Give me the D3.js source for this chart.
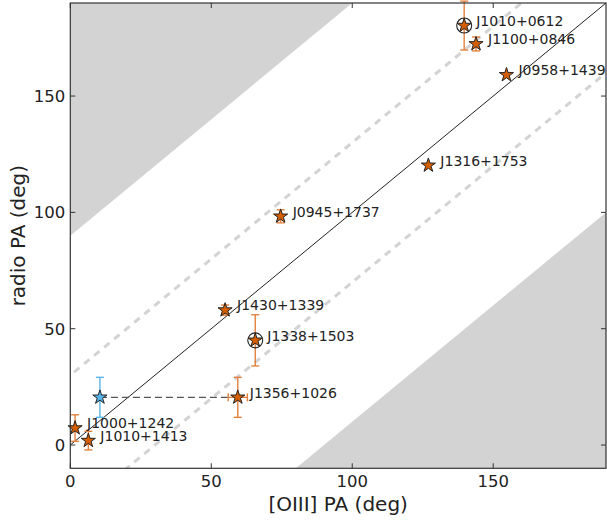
<!DOCTYPE html>
<html><head><meta charset="utf-8">
<script src="https://cdn.jsdelivr.net/npm/d3@7"></script>
<style>body{margin:0;background:#fff}svg{display:block;font-family:"DejaVu Sans",sans-serif}</style>
</head><body>
<svg id="c" width="607" height="521"></svg>
<script>
// Data
const names    = ["J1010+0612","J1100+0846","J0958+1439","J1316+1753","J0945+1737","J1430+1339","J1338+1503","J1356+1026","J1000+1242","J1010+1413"];
const oiiiPA   = [139.7, 143.9, 154.7, 127.0, 74.6, 54.9, 65.6, 59.4, 1.7, 6.4];
const radioPA  = [180.3, 172.4, 159.1, 120.2, 98.3, 58.0, 45.0, 20.5, 7.3, 1.9];
const radioErr = [10.5, 3.0, 0, 0, 2.8, 2.2, 11.0, 8.6, 5.7, 4.0];
const oiiiErr  = [0, 0, 0, 0, 0, 0, 0, 3.4, 0, 0];
const circled  = [true, false, false, false, false, false, true, false, false, false];
// alternative (blue) position for J1356+1026
const altOiii = [10.5], altRadio = [20.5], altErr = [8.6];
const xTicks = [0, 50, 100, 150], yTicks = [0, 50, 100, 150];
const xDomain = [0, 190], yDomain = [-10, 190];

const svg = d3.select("#c");
const L = 70.3, R = 606, T = 3, B = 468.3;
const x = d3.scaleLinear().domain(xDomain).range([L, R]);
const y = d3.scaleLinear().domain(yDomain).range([B, T]);

const defs = svg.append("defs");
defs.append("clipPath").attr("id","clip").append("rect").attr("x",L).attr("y",T).attr("width",R-L).attr("height",B-T);
const g = svg.append("g").attr("clip-path","url(#clip)");

// shaded regions
const shade = "#d3d3d3";
g.append("path").attr("fill",shade).attr("d", d3.line()([[x(0),y(90)],[x(100),y(190)],[x(0),y(190)]]));
g.append("path").attr("fill",shade).attr("d", d3.line()([[x(80),y(-10)],[x(190),y(100)],[x(190),y(-10)]]));

// dashed offset lines
[30,-30].forEach(o=>{
  g.append("line").attr("x1",x(-20)).attr("y1",y(-20+o)).attr("x2",x(220)).attr("y2",y(220+o))
   .attr("stroke","#d3d3d3").attr("stroke-width",3).attr("stroke-dasharray","7,6");
});
// 1:1 line
g.append("line").attr("x1",x(0)).attr("y1",y(0)).attr("x2",x(200)).attr("y2",y(200))
  .attr("stroke","#222").attr("stroke-width",1);

// horizontal dashed connector
g.append("line").attr("x1",x(altOiii[0])).attr("y1",y(altRadio[0])).attr("x2",x(oiiiPA[7])).attr("y2",y(radioPA[7]))
  .attr("stroke","#555").attr("stroke-width",1.3).attr("stroke-dasharray","7,4");

const marks = svg.append("g");
const errC = "#e3823e", blueErr = "#5ab4e6";
function errbar(cx, cy, ex, ey, col){
  const cap = 4;
  if (ey>0){
    marks.append("line").attr("x1",x(cx)).attr("x2",x(cx)).attr("y1",y(cy-ey)).attr("y2",y(cy+ey)).attr("stroke",col).attr("stroke-width",1.4);
    [cy-ey, cy+ey].forEach(v=>marks.append("line").attr("x1",x(cx)-cap).attr("x2",x(cx)+cap).attr("y1",y(v)).attr("y2",y(v)).attr("stroke",col).attr("stroke-width",1.4));
  }
  if (ex>0){
    marks.append("line").attr("y1",y(cy)).attr("y2",y(cy)).attr("x1",x(cx-ex)).attr("x2",x(cx+ex)).attr("stroke",col).attr("stroke-width",1.4);
    [cx-ex, cx+ex].forEach(v=>marks.append("line").attr("y1",y(cy)-cap).attr("y2",y(cy)+cap).attr("x1",x(v)).attr("x2",x(v)).attr("stroke",col).attr("stroke-width",1.4));
  }
}
names.forEach((n,i)=>errbar(oiiiPA[i], radioPA[i], oiiiErr[i], radioErr[i], errC));
altOiii.forEach((v,i)=>errbar(v, altRadio[i], 0, altErr[i], blueErr));

const star = d3.symbol().type(d3.symbolStar).size(62);
names.forEach((n,i)=>{
  marks.append("path").attr("d",star()).attr("transform",`translate(${x(oiiiPA[i])},${y(radioPA[i])})`)
    .attr("fill","#d55e00").attr("stroke","#222").attr("stroke-width",1);
  if (circled[i]) marks.append("circle").attr("cx",x(oiiiPA[i])).attr("cy",y(radioPA[i])).attr("r",7.5)
    .attr("fill","none").attr("stroke","#222").attr("stroke-width",1.1);
  marks.append("text").attr("x",x(oiiiPA[i])+12).attr("y",y(radioPA[i])-4.5).attr("dy","0.35em")
    .attr("font-size",14).attr("fill","#222").text(n);
});
altOiii.forEach((v,i)=>{
  marks.append("path").attr("d",star()).attr("transform",`translate(${x(v)},${y(altRadio[i])})`)
    .attr("fill","#56b4e9").attr("stroke","#222").attr("stroke-width",1);
});

// frame & ticks
const ax = svg.append("g");
const fc = "#333";
ax.append("rect").attr("x",L).attr("y",T).attr("width",R-L).attr("height",B-T).attr("fill","none").attr("stroke",fc).attr("stroke-width",1.2);
const tl = 5;
xTicks.forEach(t=>{
  ax.append("line").attr("x1",x(t)).attr("x2",x(t)).attr("y1",B).attr("y2",B-tl).attr("stroke",fc);
  ax.append("line").attr("x1",x(t)).attr("x2",x(t)).attr("y1",T).attr("y2",T+tl).attr("stroke",fc);
  ax.append("text").attr("x",x(t)).attr("y",B+19).attr("text-anchor","middle").attr("font-size",16.5).attr("fill","#222").text(t);
});
yTicks.forEach(t=>{
  ax.append("line").attr("y1",y(t)).attr("y2",y(t)).attr("x1",L).attr("x2",L+tl).attr("stroke",fc);
  ax.append("line").attr("y1",y(t)).attr("y2",y(t)).attr("x1",R).attr("x2",R-tl).attr("stroke",fc);
  ax.append("text").attr("x",L-5).attr("y",y(t)).attr("dy","0.36em").attr("text-anchor","end").attr("font-size",16.5).attr("fill","#222").text(t);
});
ax.append("text").attr("x",(L+R)/2).attr("y",511).attr("text-anchor","middle").attr("font-size",20).attr("fill","#222").text("[OIII] PA (deg)");
ax.append("text").attr("transform",`translate(25,${(T+B)/2}) rotate(-90)`).attr("text-anchor","middle").attr("font-size",20).attr("fill","#222").text("radio PA (deg)");
</script>
</body></html>
